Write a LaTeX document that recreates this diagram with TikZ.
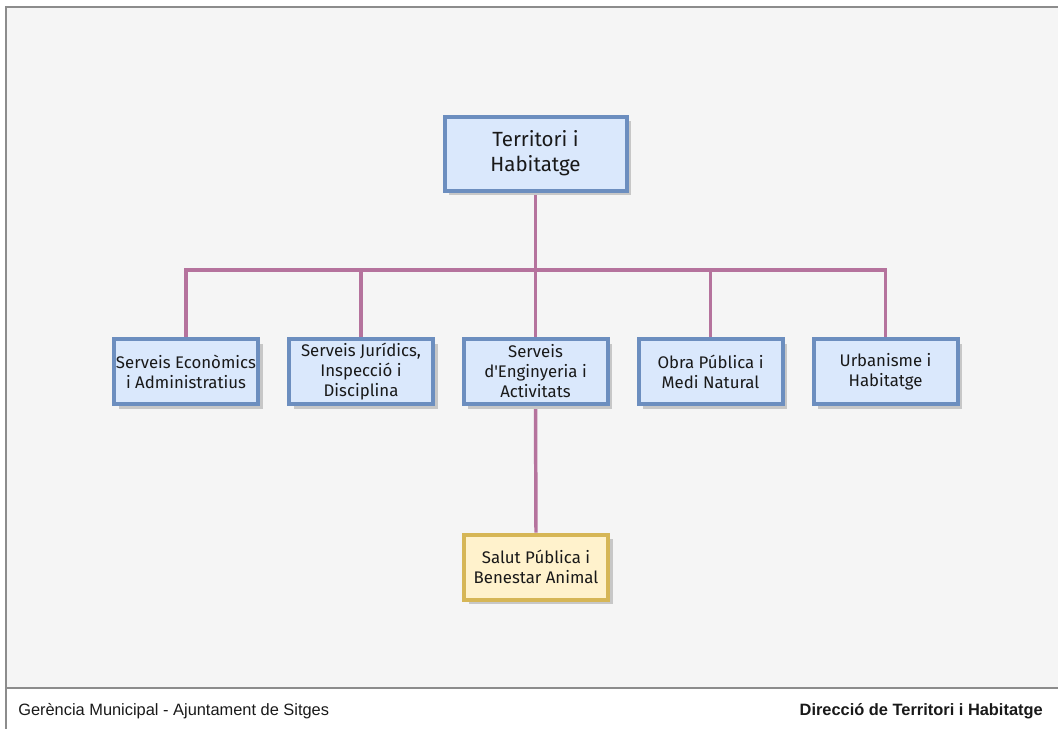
\documentclass[tikz,border=0pt]{standalone}
\usepackage{fontspec}
\setmainfont{Fira Sans}
\newfontfamily\footfont{Liberation Sans}
\usetikzlibrary{backgrounds,shadows,positioning}
\definecolor{unitfill}{HTML}{DAE8FC}
\definecolor{unitline}{HTML}{6C8EBF}
\definecolor{subfill}{HTML}{FFF2CC}
\definecolor{subline}{HTML}{D6B656}
\definecolor{linkcol}{HTML}{B5739D}
\definecolor{pagebg}{HTML}{F5F5F5}

\begin{document}
\begin{tikzpicture}[x=0.75pt, y=-0.75pt, box/.style={rectangle, line width=3pt, align=center, text=black!90, drop shadow={shadow xshift=3.4pt, shadow yshift=-3.4pt, fill=black!22, opacity=1}}, unit/.style={box, draw=unitline, fill=unitfill, minimum width=108pt, minimum height=48.75pt, inner sep=1pt, font=\fontsize{12.6}{15}\selectfont}, chief/.style={box, draw=unitline, fill=unitfill, minimum width=136.5pt, minimum height=55.5pt, font=\fontsize{15.4}{18.8}\selectfont}, sub/.style={unit, draw=subline, fill=subfill}, link/.style={draw=linkcol, line width=2.6pt}, foot/.style={inner sep=0pt, font=\footfont\fontsize{12.3}{14}\selectfont, text=black!90}]
			\useasboundingbox (0,0) rectangle (1058,729);

			% boxes
			\node[chief] (head) at (535.5,153.5) {Territori i\\Habitatge};
			\node[unit] (econ) at (186,371.5) {Serveis Econòmics\\i Administratius};
			\node[unit] (legal) at (361,371.5) {Serveis Jurídics,\\Inspecció i\\Disciplina};
			\node[unit] (eng) at (535.5,371.5) {Serveis\\d\textquotesingle Enginyeria i\\Activitats};
			\node[unit] (works) at (710.5,371.5) {Obra Pública i\\Medi Natural};
			\node[unit] (urban) at (885.5,371.5) {Urbanisme i\\Habitatge};
			\node[sub] (health) at (536,567) {Salut Pública i\\Benestar Animal};
			\coordinate (bus) at (535.5,270);

			% footer
			\node[foot, anchor=west] (footleft) at (18,711) {Gerència Municipal - Ajuntament de Sitges};
			\node[foot, anchor=east] (footright) at (1043,711) {\bfseries Direcció de Territori i Habitatge};

			\begin{scope}[on background layer]
				\fill[pagebg] (6,7) rectangle (1058,688);
				\draw[black!45, line width=1pt] (1058,7) -- (6,7) -- (6,729);
				\draw[black!45, line width=1.2pt] (6,688) -- (1058,688);
				\draw[link] (head.south) -- (bus);
				\foreach \u in {econ,legal,eng,works,urban}
					\draw[link] (bus) -| (\u.north);
				\draw[link] (eng.south) -- (health.north);
			\end{scope}
		\end{tikzpicture}
\end{document}
